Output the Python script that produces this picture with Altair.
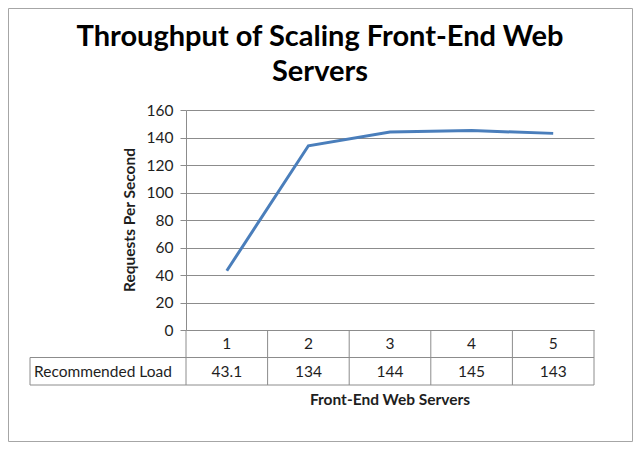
import altair as alt
import pandas as pd

# ---- data ----
servers = [1, 2, 3, 4, 5]
load = [43.1, 134, 144, 145, 143]
load_labels = ["43.1", "134", "144", "145", "143"]
row_label = "Recommended Load"
title_lines = ["Throughput of Scaling Front-End Web", "Servers"]
x_title = "Front-End Web Servers"
y_title = "Requests Per Second"
y_ticks = [0, 20, 40, 60, 80, 100, 120, 140, 160]

df = pd.DataFrame({
    "servers": servers,
    "load": load,
    "label": load_labels,
    "cat": [str(s) for s in servers],
})
bounds = pd.DataFrame({"b": [s - 0.5 for s in servers] + [servers[-1] + 0.5]})
one = pd.DataFrame({"k": [0]})

W, H = 408, 220
FONT = "Lato"
GRID = "#8c8c8c"
TXT = "#1e1e1e"
FS = 15.5
FSB = 15.5

xs = alt.Scale(domain=[servers[0] - 0.5, servers[-1] + 0.5], nice=False, zero=False)
ys = alt.Scale(domain=[0, 160], nice=False)
X = alt.X("servers:Q", scale=xs, axis=None)

line = alt.Chart(df).mark_line(color="#4A7EBB", strokeWidth=3).encode(
    x=X,
    y=alt.Y("load:Q", scale=ys, axis=alt.Axis(
        values=y_ticks, title=None, grid=True, gridColor=GRID, gridWidth=1,
        domainColor=GRID, tickColor=GRID, tickSize=6, labelPadding=7,
        labelFont=FONT, labelFontSize=FS, labelColor=TXT)),
)

row1 = alt.Chart(df).mark_text(font=FONT, fontSize=FS, color=TXT, baseline="middle").encode(
    x=X, y=alt.value(234), text="cat:N")
row2 = alt.Chart(df).mark_text(font=FONT, fontSize=FS, color=TXT, baseline="middle").encode(
    x=X, y=alt.value(261.5), text="label:N")

seps = alt.Chart(bounds).mark_rule(color=GRID, strokeWidth=1).encode(
    x=alt.X("b:Q", scale=xs, axis=None), y=alt.value(220), y2=alt.value(275))

hline1 = alt.Chart(one).mark_rule(color=GRID).encode(
    x=alt.value(-156), x2=alt.value(W), y=alt.value(247.5))
hline2 = alt.Chart(one).mark_rule(color=GRID).encode(
    x=alt.value(-156), x2=alt.value(W), y=alt.value(275))
vleft = alt.Chart(one).mark_rule(color=GRID).encode(
    x=alt.value(-156), y=alt.value(247.5), y2=alt.value(275))

rowlab = alt.Chart(one).mark_text(font=FONT, fontSize=FS, color=TXT, align="left",
                                  baseline="middle", text=row_label).encode(
    x=alt.value(-152), y=alt.value(261.5))

xt = alt.Chart(one).mark_text(font=FONT, fontSize=FSB, fontWeight="bold", color=TXT,
                              baseline="middle", text=x_title).encode(
    x=alt.value(W / 2), y=alt.value(290))
yt = alt.Chart(one).mark_text(font=FONT, fontSize=FSB, fontWeight="bold", color=TXT,
                              baseline="middle", angle=270, text=y_title).encode(
    x=alt.value(-56), y=alt.value(H / 2))

t1 = alt.Chart(one).mark_text(font=FONT, fontSize=29, fontWeight="bold", color="#000000",
                              baseline="middle", text=title_lines[0]).encode(
    x=alt.value(134), y=alt.value(-73))
t2 = alt.Chart(one).mark_text(font=FONT, fontSize=29, fontWeight="bold", color="#000000",
                              baseline="middle", text=title_lines[1]).encode(
    x=alt.value(134), y=alt.value(-38))

frame = alt.Chart(one).mark_rect(fill="white", fillOpacity=0, stroke="#a6a6a6", strokeWidth=1).encode(
    x=alt.value(-177.5), x2=alt.value(446.5), y=alt.value(-101.5), y2=alt.value(331.5))

chart = alt.layer(
    frame, line, seps, hline1, hline2, vleft, row1, row2, rowlab, xt, yt, t1, t2
).properties(
    width=W, height=H,
    padding={"left": 178, "top": 102, "right": 39, "bottom": 112},
    autosize=alt.AutoSizeParams(type="none"),
    background="white",
).configure_view(stroke=None)

chart.save("out.html", embed_options={"renderer": "svg", "actions": False})
